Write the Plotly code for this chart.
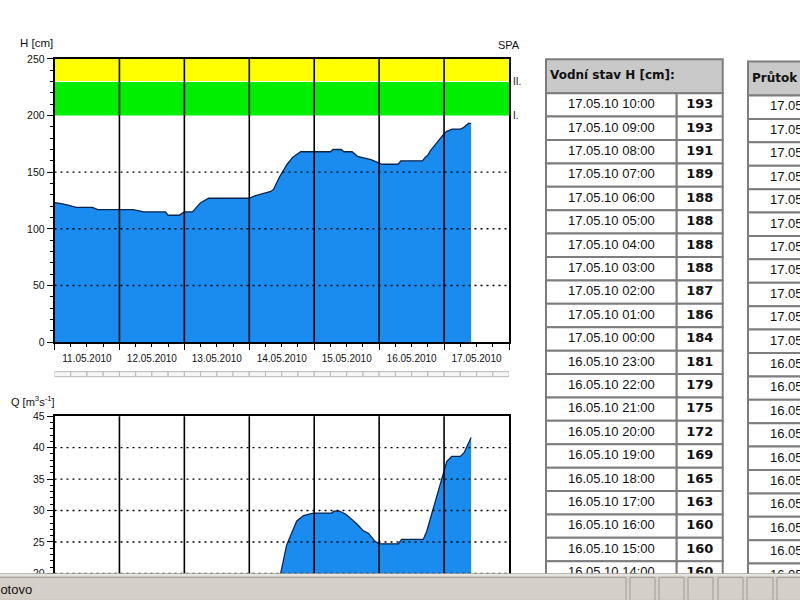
import pandas as pd
import plotly.graph_objects as go

# ---------------- data ----------------
# water level H [cm] (before the table period)
h_chart_time = ["2010-05-11 00:00", "2010-05-11 02:00", "2010-05-11 05:00", "2010-05-11 08:00",
                "2010-05-11 14:00", "2010-05-11 16:00", "2010-05-12 05:00", "2010-05-12 09:00",
                "2010-05-12 17:00", "2010-05-12 18:00", "2010-05-12 22:00", "2010-05-13 00:00",
                "2010-05-13 03:00", "2010-05-13 06:00", "2010-05-13 09:00", "2010-05-14 00:00",
                "2010-05-14 02:00", "2010-05-14 05:00", "2010-05-14 08:00", "2010-05-14 09:00",
                "2010-05-14 11:00", "2010-05-14 14:00", "2010-05-14 16:00", "2010-05-14 19:00",
                "2010-05-15 06:00", "2010-05-15 07:00", "2010-05-15 10:00", "2010-05-15 11:00",
                "2010-05-15 14:00", "2010-05-15 16:00", "2010-05-15 21:00", "2010-05-16 00:00",
                "2010-05-16 01:00", "2010-05-16 07:00", "2010-05-16 08:00", "2010-05-16 13:00"]
h_chart_val = [123, 122.5, 121, 119, 119, 117, 117, 115, 115, 112, 112, 115,
               115, 123, 127, 127, 129, 131, 133, 135, 145, 157, 163, 168,
               168, 170, 170, 168, 168, 164, 161, 158, 157, 157, 160, 160]

# table "Vodní stav H [cm]"
tab_time = ["17.05.10 10:00", "17.05.10 09:00", "17.05.10 08:00", "17.05.10 07:00",
            "17.05.10 06:00", "17.05.10 05:00", "17.05.10 04:00", "17.05.10 03:00",
            "17.05.10 02:00", "17.05.10 01:00", "17.05.10 00:00", "16.05.10 23:00",
            "16.05.10 22:00", "16.05.10 21:00", "16.05.10 20:00", "16.05.10 19:00",
            "16.05.10 18:00", "16.05.10 17:00", "16.05.10 16:00", "16.05.10 15:00",
            "16.05.10 14:00"]
tab_h = [193, 193, 191, 189, 188, 188, 188, 188, 187, 186, 184, 181,
         179, 175, 172, 169, 165, 163, 160, 160, 160]

# discharge Q [m3/s] (values below 20 are out of view, estimated)
q_time = ["2010-05-11 00:00", "2010-05-11 16:00", "2010-05-12 18:00", "2010-05-13 00:00",
          "2010-05-13 09:00", "2010-05-14 00:00", "2010-05-14 08:00", "2010-05-14 11:36",
          "2010-05-14 13:48", "2010-05-14 17:30", "2010-05-14 20:00", "2010-05-14 23:42",
          "2010-05-15 06:30", "2010-05-15 07:18", "2010-05-15 09:18", "2010-05-15 11:42",
          "2010-05-15 15:42", "2010-05-15 18:06", "2010-05-15 20:00", "2010-05-15 22:30",
          "2010-05-16 00:00", "2010-05-16 07:06", "2010-05-16 08:18", "2010-05-16 16:18",
          "2010-05-16 17:36", "2010-05-16 23:42", "2010-05-17 01:00", "2010-05-17 02:48",
          "2010-05-17 06:00", "2010-05-17 07:24", "2010-05-17 08:54", "2010-05-17 09:48",
          "2010-05-17 10:00"]
q_val = [14, 13, 12, 12.5, 14, 14.5, 16.5, 20,
         24.5, 28.3, 29.2, 29.6, 29.6, 29.9, 29.9, 29.4,
         27.9, 26.8, 26.4, 25.1, 24.7, 24.7, 25.4, 25.4,
         26.7, 36.2, 37.8, 38.6, 38.6, 39.2, 40.5, 41.4, 41.6]

spa_levels = [200, 230, 250]          # I., II., top
spa_labels = ["I.", "II."]
h_grid = [50, 100, 150]
q_grid = [20, 25, 30, 35, 40]
x_start, x_end = "2010-05-11", "2010-05-18"

# ---------------- helpers ----------------
W, H = 800, 600
A, B = 0.979, 5.2            # observed vertical mapping of the rendered page
def py(r):                   # wanted screen pixel y -> paper fraction
    return 1 - ((r - B) / A) / H
def px(p):
    return p / W

tab_dt = pd.to_datetime(tab_time, format="%d.%m.%y %H:%M")
h_x = list(pd.to_datetime(h_chart_time)) + list(tab_dt[::-1])
h_y = h_chart_val + tab_h[::-1]

FILL = "#1a8cf0"
EDGE = "#0b2550"
FONT = "Liberation Sans, Arial, sans-serif"

fig = go.Figure()
fig.add_trace(go.Scatter(x=h_x, y=h_y, xaxis="x", yaxis="y", mode="lines",
                         fill="tozeroy", fillcolor=FILL,
                         line=dict(color=EDGE, width=1.3), hoverinfo="skip"))
fig.add_trace(go.Scatter(x=pd.to_datetime(q_time), y=q_val, xaxis="x2", yaxis="y2", mode="lines",
                         fill="tozeroy", fillcolor=FILL,
                         line=dict(color=EDGE, width=1.3), hoverinfo="skip"))

# ---------------- tables (x3/y3: x in px-like units, y in row index) ----------------
ROW0 = (104 - B) / A
PITCH = 23.38 / A
T1L, T1D, T1R = 6, 136.7, 182.7
T2OFF, T2DY = 202, 0.1
n = len(tab_time)
rows = list(range(n))

shapes = []
for off, dy in [(0, 0), (T2OFF, T2DY)]:
    shapes.append(dict(type="rect", xref="x3", yref="y3", x0=T1L + off, x1=T1R + off,
                       y0=-1.95 + dy, y1=-0.5 + dy, fillcolor="#c9c9c9",
                       line=dict(color="#7d7d7d", width=2), layer="below"))
    for i in rows:
        shapes.append(dict(type="rect", xref="x3", yref="y3", x0=T1L + off, x1=T1D + off,
                           y0=i - 0.5 + dy, y1=i + 0.5 + dy, fillcolor="white",
                           line=dict(color="#7d7d7d", width=2), layer="below"))
        shapes.append(dict(type="rect", xref="x3", yref="y3", x0=T1D + off, x1=T1R + off,
                           y0=i - 0.5 + dy, y1=i + 0.5 + dy, fillcolor="white",
                           line=dict(color="#7d7d7d", width=2), layer="below"))

fig.add_trace(go.Scatter(x=[(T1L + T1D) / 2] * n, y=rows, mode="text", text=tab_time,
                         textfont=dict(family=FONT, size=13, color="#111"),
                         xaxis="x3", yaxis="y3", hoverinfo="skip"))
fig.add_trace(go.Scatter(x=[(T1D + T1R) / 2] * n, y=rows, mode="text",
                         text=[f"<b>{v}</b>" for v in tab_h],
                         textfont=dict(family="DejaVu Sans", size=13, color="#111"),
                         xaxis="x3", yaxis="y3", hoverinfo="skip"))
fig.add_trace(go.Scatter(x=[(T1L + T1D) / 2 + T2OFF] * n, y=[r + T2DY for r in rows], mode="text",
                         text=tab_time, textfont=dict(family=FONT, size=13, color="#111"),
                         xaxis="x3", yaxis="y3", hoverinfo="skip"))
fig.add_trace(go.Scatter(x=[T1L + 4, T1L + 4 + T2OFF], y=[-1.22, -1.22 + T2DY], mode="text",
                         text=["<b>Vodní stav H [cm]:</b>", "<b>Průtok Q [m<sup>3</sup>s<sup>-1</sup>]:</b>"],
                         textposition="middle right",
                         textfont=dict(family="DejaVu Sans", size=12, color="#111"),
                         xaxis="x3", yaxis="y3", hoverinfo="skip"))

# ---------------- chart decorations ----------------
shapes.append(dict(type="rect", xref="x domain", yref="y", x0=0, x1=1,
                   y0=spa_levels[1], y1=spa_levels[2], fillcolor="#ffff00", line_width=0, layer="below"))
shapes.append(dict(type="rect", xref="x domain", yref="y", x0=0, x1=1,
                   y0=spa_levels[0], y1=spa_levels[1], fillcolor="#00ee00", line_width=0, layer="below"))
shapes.append(dict(type="line", xref="x domain", yref="y", x0=0, x1=1,
                   y0=spa_levels[1], y1=spa_levels[1], line=dict(color="white", width=1.2), layer="below"))

days = pd.date_range(x_start, x_end, freq="D")[1:-1]
for xr, yr in [("x", "y domain"), ("x2", "y2 domain")]:
    for d in days:
        shapes.append(dict(type="line", xref=xr, yref=yr, x0=d, x1=d, y0=0, y1=1,
                           line=dict(color="black", width=1.6), layer="above"))
for g in h_grid:
    shapes.append(dict(type="line", xref="x domain", yref="y", x0=0, x1=1, y0=g, y1=g,
                       line=dict(color="black", width=1.4, dash="2px,4px"), layer="above"))
for g in q_grid:
    shapes.append(dict(type="line", xref="x2 domain", yref="y2", x0=0, x1=1, y0=g, y1=g,
                       line=dict(color="black", width=1.4, dash="2px,4px"), layer="above"))

# strip between charts
segs = pd.date_range(x_start, x_end, freq="6h")
for a, b in zip(segs[:-1], segs[1:]):
    shapes.append(dict(type="rect", xref="x", yref="paper", x0=a, x1=b,
                       y0=py(375.5), y1=py(370.5), fillcolor="#f6f6f6",
                       line=dict(color="#b8b8b8", width=1), layer="above"))

# status bar
shapes.append(dict(type="rect", xref="paper", yref="paper", x0=0, x1=1, y0=-0.05, y1=py(572),
                   fillcolor="#d4d0c8", line_width=0, layer="above"))
shapes.append(dict(type="line", xref="paper", yref="paper", x0=0, x1=1, y0=py(572.5), y1=py(572.5),
                   line=dict(color="#9a9890", width=1), layer="above"))
shapes.append(dict(type="line", xref="paper", yref="paper", x0=0, x1=1, y0=py(573.5), y1=py(573.5),
                   line=dict(color="#ffffff", width=1), layer="above"))
for a, b in [(-2, 626), (630, 655), (659, 684), (688, 713), (718, 743), (747, 773), (777, 805)]:
    shapes.append(dict(type="rect", xref="paper", yref="paper", x0=px(a), x1=px(b),
                       y0=py(599), y1=py(576), fillcolor="#d4d0c8",
                       line=dict(color="#a09c94", width=1), layer="above"))

annotations = [
    dict(text="H [cm]", xref="paper", yref="paper", x=px(18), y=py(42), xanchor="left",
         yanchor="middle", showarrow=False, font=dict(family=FONT, size=11.5, color="#111")),
    dict(text="SPA", xref="x domain", yref="paper", x=1, y=py(44), xanchor="center",
         yanchor="middle", showarrow=False, font=dict(family=FONT, size=11, color="#111")),
    dict(text="Q [m<sup>3</sup>s<sup>-1</sup>]", xref="paper", yref="paper", x=px(9), y=py(400),
         xanchor="left", yanchor="middle", showarrow=False,
         font=dict(family=FONT, size=11, color="#111")),
    dict(text="Hotovo", xref="paper", yref="paper", x=px(-11), y=py(588), xanchor="left",
         yanchor="middle", showarrow=False, font=dict(family=FONT, size=13, color="#111")),
]
for lev, lab in zip(spa_levels[:2], spa_labels):
    annotations.append(dict(text=lab, xref="x domain", yref="y", x=1, y=lev, xanchor="left",
                            xshift=2, yanchor="middle", showarrow=False,
                            font=dict(family=FONT, size=10, color="#111")))

axis_common = dict(showline=True, linecolor="black", linewidth=1.5, mirror=True,
                   ticks="outside", tickcolor="black", tickwidth=1, ticklen=6,
                   showgrid=False, zeroline=False,
                   tickfont=dict(family=FONT, size=10, color="#111"))
x_common = dict(axis_common, type="date", range=[x_start, x_end], dtick=86400000,
                tick0=x_start, tickformat="%d.%m.%Y", ticklabelmode="period",
                minor=dict(dtick=6 * 3600000, ticks="outside", ticklen=3, tickcolor="black"))

q_bottom = 20 - ((A * H + B) - 572) / 6.28

fig.update_layout(
    width=W, height=H, margin=dict(l=0, r=0, t=0, b=0),
    paper_bgcolor="white", plot_bgcolor="rgba(0,0,0,0)",
    showlegend=False, hovermode=False,
    xaxis=dict(x_common, domain=[px(54.5), px(509)], anchor="y"),
    yaxis=dict(axis_common, domain=[py(341), py(58)], anchor="x", range=[0, 250], dtick=50,
               tickfont=dict(family=FONT, size=10.5, color="#111"),
               minor=dict(dtick=10, ticks="outside", ticklen=3, tickcolor="black")),
    xaxis2=dict(x_common, domain=[px(54.5), px(509)], anchor="y2", showticklabels=False,
                ticks="", minor=dict(ticks="")),
    yaxis2=dict(axis_common, domain=[0, py(415)], anchor="x2",
                range=[q_bottom, 45], dtick=5, tick0=0,
                tickfont=dict(family=FONT, size=10.5, color="#111"),
                minor=dict(dtick=1, ticks="outside", ticklen=3, tickcolor="black")),
    xaxis3=dict(domain=[px(540), 1], range=[0, 260], visible=False),
    yaxis3=dict(domain=[0, 1], range=[(H - ROW0) / PITCH, -ROW0 / PITCH], visible=False),
    shapes=shapes, annotations=annotations,
)

fig.write_html("out.html")
